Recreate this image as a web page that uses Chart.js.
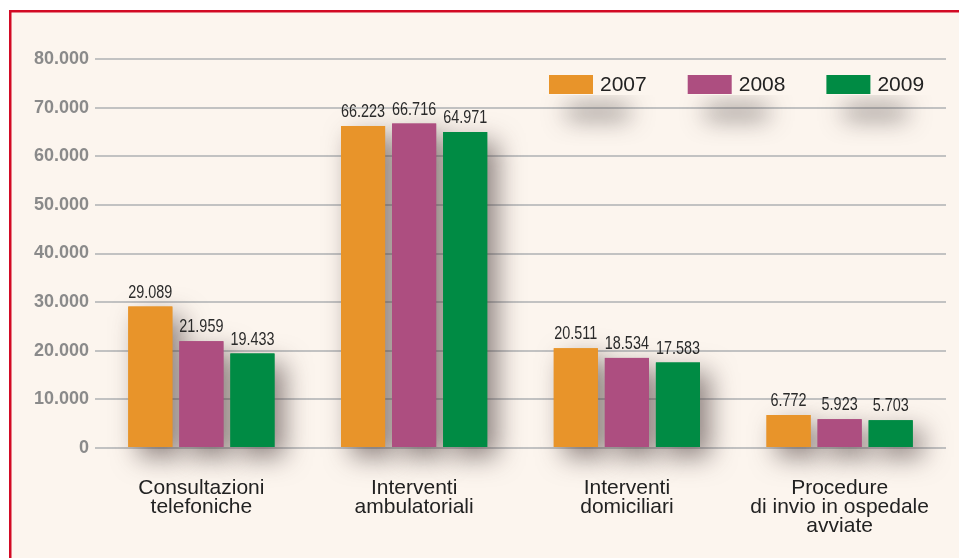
<!DOCTYPE html>
<html>
<head>
<meta charset="utf-8">
<script src="https://cdn.jsdelivr.net/npm/chart.js@4.4.1/dist/chart.umd.min.js"></script>
<style>
html,body{margin:0;padding:0;background:#fff;}
#wrap{width:959px;height:558px;position:relative;}
</style>
</head>
<body>
<div id="wrap"><canvas id="c" width="959" height="558"></canvas></div>
<script>
const categories = [
  ['Consultazioni', 'telefoniche'],
  ['Interventi', 'ambulatoriali'],
  ['Interventi', 'domiciliari'],
  ['Procedure', 'di invio in ospedale', 'avviate']
];
const years = ['2007', '2008', '2009'];
const values2007 = [29089, 66223, 20511, 6772];
const values2008 = [21959, 66716, 18534, 5923];
const values2009 = [19433, 64971, 17583, 5703];
const yMin = 0, yMax = 80000, yStep = 10000;

const colors = ['#e8942a', '#ad4e80', '#008b44'];
const BG = '#fcf5ee';

function fmt(v) {
  return String(Math.round(v)).replace(/\B(?=(\d{3})+(?!\d))/g, '.');
}

const framePlugin = {
  id: 'frame',
  beforeDraw(chart) {
    const ctx = chart.ctx;
    ctx.save();
    ctx.fillStyle = '#ffffff';
    ctx.fillRect(0, 0, chart.width, chart.height);
    ctx.fillStyle = BG;
    ctx.fillRect(10, 11, chart.width - 10, chart.height - 11);
    ctx.strokeStyle = '#d20a24';
    ctx.lineWidth = 2.5;
    ctx.beginPath();
    ctx.moveTo(10.25, chart.height + 2);
    ctx.lineTo(10.25, 11.25);
    ctx.lineTo(chart.width + 2, 11.25);
    ctx.stroke();
    ctx.restore();
  }
};

const shadowPlugin = {
  id: 'barShadow',
  beforeDatasetsDraw(chart) {
    const ctx = chart.ctx;
    ctx.save();
    ctx.shadowColor = 'rgba(70,55,55,0.6)';
    ctx.shadowBlur = 26;
    ctx.shadowOffsetX = 10;
    ctx.shadowOffsetY = 10;
    chart.data.datasets.forEach((ds, i) => {
      const meta = chart.getDatasetMeta(i);
      meta.data.forEach(el => {
        ctx.fillStyle = ds.backgroundColor;
        ctx.fillRect(el.x - el.width / 2, el.y, el.width, el.base - el.y);
      });
    });
    ctx.restore();
  },
  afterDatasetsDraw(chart) {
    const ctx = chart.ctx;
    const sx = 0.8;
    ctx.save();
    ctx.font = '18px "Liberation Sans", Arial, sans-serif';
    ctx.fillStyle = '#2a2a2a';
    ctx.textAlign = 'center';
    ctx.textBaseline = 'alphabetic';
    chart.data.datasets.forEach((ds, i) => {
      const meta = chart.getDatasetMeta(i);
      meta.data.forEach((el, j) => {
        ctx.save();
        ctx.translate(el.x, el.y - 9);
        ctx.scale(sx, 1);
        ctx.fillText(fmt(ds.data[j]), 0, 0);
        ctx.restore();
      });
    });
    ctx.restore();
  }
};

const legendPlugin = {
  id: 'customLegend',
  afterDraw(chart) {
    const ctx = chart.ctx;
    const x0 = 549, y0 = 75, step = 138.7, bw = 44, bh = 19;
    ctx.save();
    ctx.font = '21px "Liberation Sans", Arial, sans-serif';
    chart.data.datasets.forEach((ds, i) => {
      const x = x0 + i * step;
      ctx.save();
      ctx.fillStyle = BG;
      ctx.fillRect(x - 4, y0 - 12, 108, 44);
      ctx.shadowColor = 'rgba(60,50,50,0.75)';
      ctx.shadowBlur = 24;
      ctx.shadowOffsetY = 30;
      ctx.fillStyle = BG;
      ctx.fillRect(x + 18, y0 + 2, 62, 10);
      ctx.restore();
      ctx.fillStyle = BG;
      ctx.fillRect(x - 4, y0 - 12, 108, 32);
      ctx.fillStyle = ds.backgroundColor;
      ctx.fillRect(x, y0, bw, bh);
      ctx.fillStyle = '#222222';
      ctx.textAlign = 'left';
      ctx.textBaseline = 'middle';
      ctx.fillText(ds.label, x + bw + 7, y0 + bh / 2 + 1);
    });
    ctx.restore();
  }
};

new Chart(document.getElementById('c'), {
  type: 'bar',
  data: {
    labels: categories,
    datasets: [
      { label: years[0], data: values2007, backgroundColor: colors[0] },
      { label: years[1], data: values2008, backgroundColor: colors[1] },
      { label: years[2], data: values2009, backgroundColor: colors[2] }
    ]
  },
  options: {
    responsive: false,
    animation: false,
    devicePixelRatio: 1,
    layout: { padding: { top: 59, right: 13, left: 0, bottom: 0 } },
    categoryPercentage: 0.72,
    barPercentage: 0.863,
    plugins: { legend: { display: false }, tooltip: { enabled: false } },
    scales: {
      x: {
        grid: { display: false },
        border: { display: false },
        ticks: {
          autoSkip: false, maxRotation: 0, padding: 23,
          color: '#222222',
          font: { family: '"Liberation Sans", Arial, sans-serif', size: 21, lineHeight: 0.9 }
        },
        afterFit(s) { s.height = 110; }
      },
      y: {
        min: yMin, max: yMax,
        grid: { color: '#c2c2c2', lineWidth: 2, drawTicks: false },
        border: { display: false },
        ticks: {
          stepSize: yStep, padding: 6,
          color: '#8a8a8a',
          font: { family: '"Liberation Sans", Arial, sans-serif', size: 18, weight: 'bold' },
          callback: v => fmt(v)
        },
        afterFit(s) { s.width = 95; }
      }
    }
  },
  plugins: [framePlugin, shadowPlugin, legendPlugin]
});
</script>
</body>
</html>
